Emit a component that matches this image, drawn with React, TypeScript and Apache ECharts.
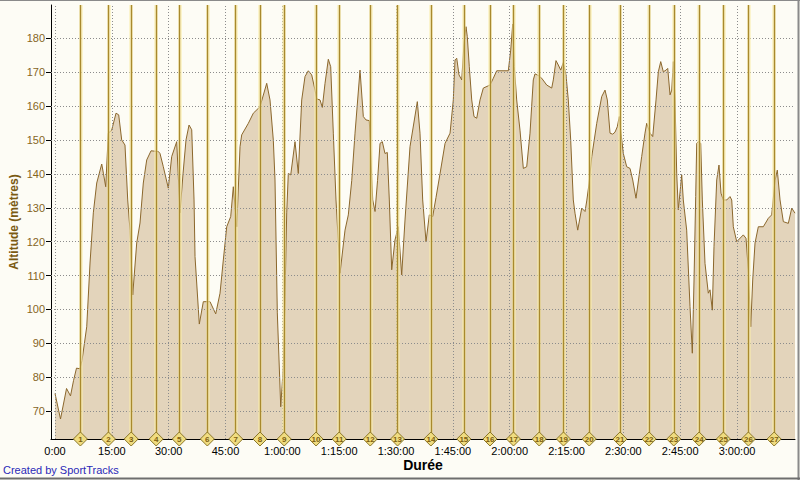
import React, { useEffect, useRef } from "react";
import * as echarts from "echarts";

const times = [
  0.0, 1.45, 3.04, 4.09, 4.88, 5.67, 6.6, 7.13, 8.37, 9.24, 10.11, 11.01, 12.33, 12.8, 13.38, 14.07, 14.96, 16.1, 16.81,
  17.6, 18.47, 19.19, 19.79, 20.51, 21.56, 22.43, 23.3, 24.2, 25.34, 27.26, 27.71, 28.58, 29.9, 30.8, 32.12, 32.99, 33.78,
  34.57, 35.37, 36.08, 36.69, 36.95, 38.08, 39.14, 40.91, 42.41, 43.55, 44.42, 45.32, 46.37, 47.06, 47.96, 48.83, 49.27,
  51.02, 52.34, 54.1, 55.87, 56.74, 57.61, 58.06, 58.67, 59.57, 60.25, 60.7, 61.15, 61.57, 62.21, 63.34, 64.21, 65.11,
  65.98, 66.85, 67.75, 68.62, 69.07, 69.94, 70.55, 71.26, 72.13, 72.76, 73.45, 74.16, 75.22, 76.54, 77.41, 78.31, 79.18,
  80.5, 81.37, 82.08, 82.95, 83.85, 84.46, 85.12, 85.78, 86.38, 87.09, 87.7, 88.23, 88.86, 89.73, 90.6, 91.5, 92.37,
  93.69, 95.62, 96.33, 97.04, 97.92, 98.79, 99.68, 100.55, 101.61, 102.94, 104.26, 105.12, 105.57, 106.02, 106.62,
  107.34, 107.94, 108.47, 108.81, 109.34, 109.98, 110.58, 111.3, 112.17, 113.04, 114.81, 115.68, 116.57, 119.64, 120.27,
  120.8, 121.22, 121.85, 122.72, 123.6, 124.49, 125.36, 126.23, 126.68, 127.55, 128.45, 129.77, 131.09, 131.51, 132.22,
  132.83, 133.47, 134.15, 134.86, 135.47, 136.1, 136.79, 137.24, 137.95, 139.01, 139.88, 140.33, 140.93, 141.66, 142.97,
  144.29, 145.16, 145.77, 146.48, 147.19, 147.8, 148.4, 148.93, 149.38, 149.99, 150.88, 151.76, 152.47, 153.34, 154.84,
  155.71, 156.16, 157.03, 157.75, 158.62, 159.23, 159.86, 160.55, 161.26, 161.71, 162.32, 162.77, 163.18, 163.63,
  164.08, 164.5, 165.4, 165.82, 166.71, 167.59, 168.2, 168.65, 169.09, 169.36, 169.78, 170.42, 170.84, 171.55, 172.42,
  172.87, 173.48, 173.92, 174.64, 175.24, 175.77, 176.38, 177.28, 178.15, 178.6, 179.02, 179.92, 181.66, 182.37, 182.98,
  183.61, 184.14, 184.75, 185.62, 186.94, 188.26, 189.15, 190.02, 190.63, 191.35, 192.22, 193.54, 194.44, 195.3,
];
const altitudes = [
  75.2, 67.7, 76.7, 74.5, 79, 82.7, 82.5, 85, 94.9, 113.7, 128.5, 137.3, 142.9, 140, 136.2, 152, 152.9, 157.9, 157.4,
  150, 148.5, 132.3, 123.4, 104.3, 119.6, 125.5, 137.3, 144.1, 146.8, 146.6, 146, 142.1, 135.8, 145.1, 149.5, 128.5, 140,
  150, 154.4, 153, 132.3, 115.6, 95.7, 102.3, 102.3, 98.7, 104.8, 114.6, 124.4, 127.4, 136.2, 124.4, 148, 151.5,
  154.9, 157.9, 159.8, 166.7, 161.8, 150, 138.2, 99, 71.3, 83.1, 103.8, 128.5, 140.1, 139.7, 149.5, 140.1, 161.8,
  168.7, 170.4, 169.2, 164.7, 162.1, 161.8, 159.6, 166.7, 173.8, 171.6, 152, 132.3, 110.7, 123.4, 127.9, 138, 152,
  170.6, 156.9, 155.9, 155.7, 132.3, 128.9, 138, 149, 149.5, 146, 146.3, 132.3, 111.7, 120.5, 124.4, 110.2, 126.4,
  148, 161.3, 152, 132.3, 120, 127.9, 127.4, 133, 140, 149, 152, 161.8, 173.6, 174.1, 169.2,
  167.7, 178.5, 183.4, 180.5, 171.6, 161.8, 156.9, 156.4, 161.8, 165.3, 166.2, 168.2, 170.4, 170.4, 176.5,
  184.2, 171.6, 161.8, 152.9, 141.6, 142.1, 152, 167.7, 169.5, 169, 168.2, 166.2, 165.3, 167.7, 173.4,
  172.1, 170.6, 172.8, 169.2, 161.8, 150, 132.3, 128.4, 123.4, 129.9, 128.9, 132, 137, 145.1, 154.9,
  162.8, 164.7, 161.8, 152, 151.7, 152.3, 153.9, 156.9, 152, 146, 142.1, 141.6, 138.2, 132.8, 145.1,
  152, 154.9, 152, 151, 161.8, 170.1, 173.1, 170.1, 170.6, 171.1, 163.3, 164.7, 173.1, 161.8,
  140.2, 129.4, 139.7, 132.3, 123.4, 100.9, 87.1, 108.7, 133.3, 149, 149.5, 149, 132.3, 113.6, 104.8,
  105.8, 99.8, 118.5, 138.2, 142.6, 134.3, 132.3, 132.3, 133.3, 132.3, 124.4, 120, 122, 121, 111.7,
  94.9, 108.7, 119.6, 124.4, 124.4, 126.9, 127.9, 138, 141.1, 132.3, 125.9, 125.4, 129.9, 128.4,
];

// Lap markers (minutes)
const lapTimes = [
  6.7, 14.1, 20.1, 26.7, 32.8, 40.2, 47.7, 54.1, 60.5, 68.9, 75.0, 83.2, 90.4, 99.2, 107.9, 114.8, 121.0, 127.8, 134.2,
  141.0, 149.1, 156.8, 163.3, 170.0, 176.4, 183.0, 189.8,
];
const lapLabels = lapTimes.map((_, i) => String(i + 1));

// Axis ticks
const xTickValues = [0, 15, 30, 45, 60, 75, 90, 105, 120, 135, 150, 165, 180];
const xTickLabels = [
  "0:00", "15:00", "30:00", "45:00", "1:00:00", "1:15:00", "1:30:00", "1:45:00", "2:00:00", "2:15:00", "2:30:00",
  "2:45:00", "3:00:00",
];
const yTickValues = [70, 80, 90, 100, 110, 120, 130, 140, 150, 160, 170, 180];

const X_MIN = -1.06;
const X_MAX = 195.3;
const Y_MIN = 61.8;
const Y_MAX = 189.8;

const FONT = "'Liberation Sans', Arial, sans-serif";

export default function App() {
  const ref = useRef<HTMLDivElement>(null);

  useEffect(() => {
    document.body.style.margin = "0";
    if (!ref.current) return;
    const chart = echarts.init(ref.current, undefined, { renderer: "svg" });

    const gridLineStyle = { color: "#8c8c8c", type: [1, 2] as any, width: 1 };

    const option: any = {
      animation: false,
      backgroundColor: "#fdfcf5",
      textStyle: { fontFamily: FONT },
      grid: { left: 51, right: 5, top: 5, bottom: 41, containLabel: false, outerBoundsMode: "none" },
      xAxis: {
        type: "value",
        min: X_MIN,
        max: X_MAX,
        name: "Durée",
        nameLocation: "middle",
        nameGap: 19,
        nameMoveOverlap: false,
        nameTextStyle: { fontFamily: FONT, fontSize: 14, fontWeight: "bold", color: "#000" },
        axisLine: { show: true, onZero: false, lineStyle: { color: "#000", width: 1 } },
        axisTick: { show: true, inside: true, length: 5, customValues: xTickValues, lineStyle: { color: "#000" } },
        axisLabel: {
          customValues: xTickValues,
          margin: 6,
          color: "#000",
          fontSize: 11,
          fontFamily: FONT,
          formatter: (v: number) => {
            const i = xTickValues.indexOf(Math.round(v));
            return i >= 0 ? xTickLabels[i] : "";
          },
        },
        splitLine: { show: false },
      },
      yAxis: {
        type: "value",
        min: Y_MIN,
        max: Y_MAX,
        name: "Altitude (mètres)",
        nameLocation: "middle",
        nameGap: 31,
        nameMoveOverlap: false,
        nameTextStyle: { fontFamily: FONT, fontSize: 12, fontWeight: "bold", color: "#7a5a12" },
        axisLine: { show: true, onZero: false, lineStyle: { color: "#000", width: 1 } },
        axisTick: { show: true, inside: false, length: 5, customValues: yTickValues, lineStyle: { color: "#000" } },
        axisLabel: { customValues: yTickValues, margin: 6, color: "#85651e", fontSize: 11, fontFamily: FONT },
        splitLine: { show: false },
      },
      series: [
        {
          type: "line",
          data: times.map((t, i) => [t, altitudes[i]]),
          symbol: "none",
          showSymbol: false,
          lineStyle: { color: "#8b672c", width: 1 },
          areaStyle: { color: "#e3d4bb", opacity: 1, origin: "start" },
          z: 2,
        },
        {
          type: "line",
          data: [],
          z: 3,
          silent: true,
          markLine: {
            silent: true,
            symbol: "none",
            label: { show: false },
            lineStyle: gridLineStyle,
            data: [
              ...xTickValues.map((v) => ({ xAxis: v })),
              ...yTickValues.map((v) => ({ yAxis: v })),
            ],
          },
        },
        {
          type: "line",
          data: [],
          z: 4,
          silent: true,
          markLine: {
            silent: true,
            symbol: "none",
            label: { show: false },
            lineStyle: { color: "rgba(250,236,170,0.7)", width: 3.5, type: "solid" },
            data: lapTimes.map((t) => ({ xAxis: t })),
          },
        },
        {
          type: "line",
          data: [],
          z: 5,
          silent: true,
          markLine: {
            silent: true,
            symbol: "none",
            label: { show: false },
            lineStyle: { color: "#a8892e", width: 1.4, type: "solid" },
            data: lapTimes.map((t) => ({ xAxis: t })),
          },
        },
        {
          type: "scatter",
          clip: false,
          z: 6,
          symbol: "diamond",
          symbolSize: [14, 14],
          data: lapTimes.map((t, i) => ({ value: [t, Y_MIN], name: lapLabels[i] })),
          itemStyle: { color: "#f0dc80", borderColor: "#8a7628", borderWidth: 1, opacity: 1 },
          label: {
            show: true,
            position: "inside",
            formatter: (p: any) => p.name,
            fontSize: 8,
            fontWeight: "bold",
            color: "#7d5f10",
            fontFamily: FONT,
          },
        },
      ],
      graphic: [
        {
          type: "text",
          left: 3,
          top: 464,
          style: { text: "Created by SportTracks", fill: "#2a2ab8", font: `11px ${FONT}` },
        },
        { type: "line", shape: { x1: 0, y1: 0.5, x2: 800, y2: 0.5 }, style: { stroke: "#8a8a8a", lineWidth: 1 } },
        { type: "line", shape: { x1: 798.5, y1: 0, x2: 798.5, y2: 480 }, style: { stroke: "#8a8a8a", lineWidth: 2 } },
        { type: "line", shape: { x1: 0, y1: 478.5, x2: 800, y2: 478.5 }, style: { stroke: "#6e6e6e", lineWidth: 2 } },
      ],
    };

    chart.setOption(option);
    return () => chart.dispose();
  }, []);

  return <div ref={ref} style={{ width: 800, height: 480 }} />;
}
